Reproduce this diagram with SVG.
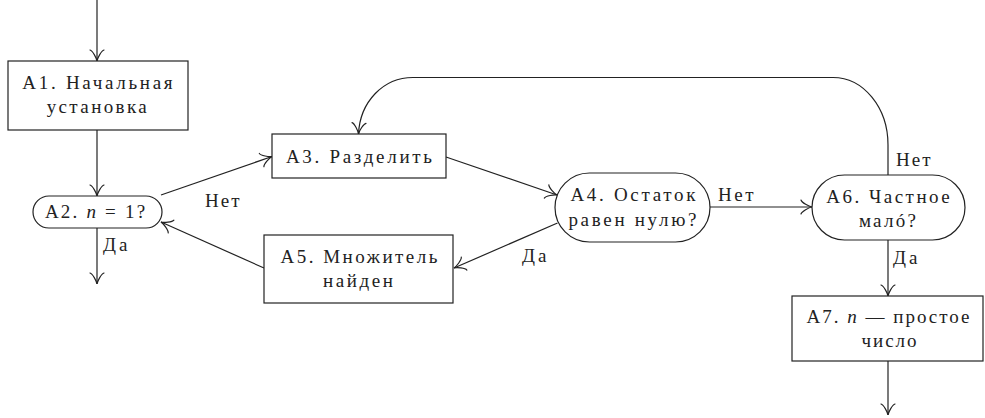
<svg xmlns="http://www.w3.org/2000/svg" width="985" height="418" viewBox="0 0 985 418">
<defs>
<marker id="arr" markerUnits="userSpaceOnUse" markerWidth="30" markerHeight="30" viewBox="-15 -15 30 30" refX="0" refY="0" orient="auto">
<path d="M -11,-7 C -10.3,-4.4 -3,-0.5 0,0 C -3,0.5 -10.3,4.4 -11,7" fill="none" stroke="#222" stroke-width="1.2" stroke-linecap="round"/>
</marker>
<style>
.box{fill:#fff;stroke:#222;stroke-width:1.2}
.e{fill:none;stroke:#222;stroke-width:1.2;marker-end:url(#arr)}
</style>
</defs>
<rect width="985" height="418" fill="#fff"/>
<g id="connectors">
<path class="e" d="M97,0 L97,61"/>
<path class="e" d="M97,130 L97,196"/>
<path class="e" d="M97,228 L97,284"/>
<path class="e" d="M161,195 L272,156.5"/>
<path class="e" d="M446,157 L557,195"/>
<path class="e" d="M557.5,223 L454,268"/>
<path class="e" d="M264,268 L161,222"/>
<path class="e" d="M710,207 L812,207"/>
<path class="e" d="M888,175 L888,145 C888,107.5 863.4,77.5 833,77.5 L413,77.5 C383,77.5 360,102 358.5,134"/>
<path class="e" d="M888,240 L888,296"/>
<path class="e" d="M888,361 L888,415"/>
<text font-family="Liberation Serif" font-size="19" fill="#222" letter-spacing="2" x="205" y="207">Нет</text>
<text font-family="Liberation Serif" font-size="19" fill="#222" letter-spacing="3" x="103" y="251">Да</text>
<text font-family="Liberation Serif" font-size="19" fill="#222" letter-spacing="3" x="522" y="262">Да</text>
<text font-family="Liberation Serif" font-size="19" fill="#222" letter-spacing="2.5" x="718" y="201">Нет</text>
<text font-family="Liberation Serif" font-size="19" fill="#222" letter-spacing="2" x="896" y="166">Нет</text>
<text font-family="Liberation Serif" font-size="19" fill="#222" letter-spacing="3" x="893" y="264">Да</text>
</g>
<g id="A1">
<rect class="box" x="8" y="61" width="180" height="69"/>
<text font-family="Liberation Serif" font-size="19" fill="#222" text-anchor="middle" letter-spacing="2.7" x="98.8" y="89">A1. Начальная</text>
<text font-family="Liberation Serif" font-size="19" fill="#222" text-anchor="middle" letter-spacing="2.4" x="97.9" y="113">установка</text>
</g>
<g id="A2">
<rect class="box" x="33" y="196" width="129" height="32" rx="16"/>
<text font-family="Liberation Serif" font-size="19" fill="#222" text-anchor="middle" letter-spacing="2.2" x="96.1" y="218">A2. <tspan font-style="italic">n</tspan> = 1?</text>
</g>
<g id="A3">
<rect class="box" x="272" y="134" width="174" height="44"/>
<text font-family="Liberation Serif" font-size="19" fill="#222" text-anchor="middle" letter-spacing="2.7" x="360.3" y="162.5">A3. Разделить</text>
</g>
<g id="A4">
<rect class="box" x="555" y="173" width="155" height="69" rx="34.5"/>
<text font-family="Liberation Serif" font-size="19" fill="#222" text-anchor="middle" letter-spacing="2.7" x="634.3" y="200.5">A4. Остаток</text>
<text font-family="Liberation Serif" font-size="19" fill="#222" text-anchor="middle" letter-spacing="2.7" x="633.8" y="225.5">равен нулю?</text>
</g>
<g id="A5">
<rect class="box" x="264" y="235" width="189" height="68"/>
<text font-family="Liberation Serif" font-size="19" fill="#222" text-anchor="middle" letter-spacing="2.5" x="360.2" y="262.5">A5. Множитель</text>
<text font-family="Liberation Serif" font-size="19" fill="#222" text-anchor="middle" letter-spacing="2.6" x="359.3" y="286.5">найден</text>
</g>
<g id="A6">
<rect class="box" x="812" y="175" width="153" height="65" rx="32.5"/>
<text font-family="Liberation Serif" font-size="19" fill="#222" text-anchor="middle" letter-spacing="2.5" x="889.2" y="202.5">A6. Частное</text>
<text font-family="Liberation Serif" font-size="19" fill="#222" text-anchor="middle" letter-spacing="2.3" x="888.6" y="226.5">малó?</text>
</g>
<g id="A7">
<rect class="box" x="792" y="296" width="191" height="65"/>
<text font-family="Liberation Serif" font-size="19" fill="#222" text-anchor="middle" letter-spacing="2" x="889" y="323">A7. <tspan font-style="italic">n</tspan> — простое</text>
<text font-family="Liberation Serif" font-size="19" fill="#222" text-anchor="middle" letter-spacing="2" x="890" y="347">число</text>
</g>
</svg>
